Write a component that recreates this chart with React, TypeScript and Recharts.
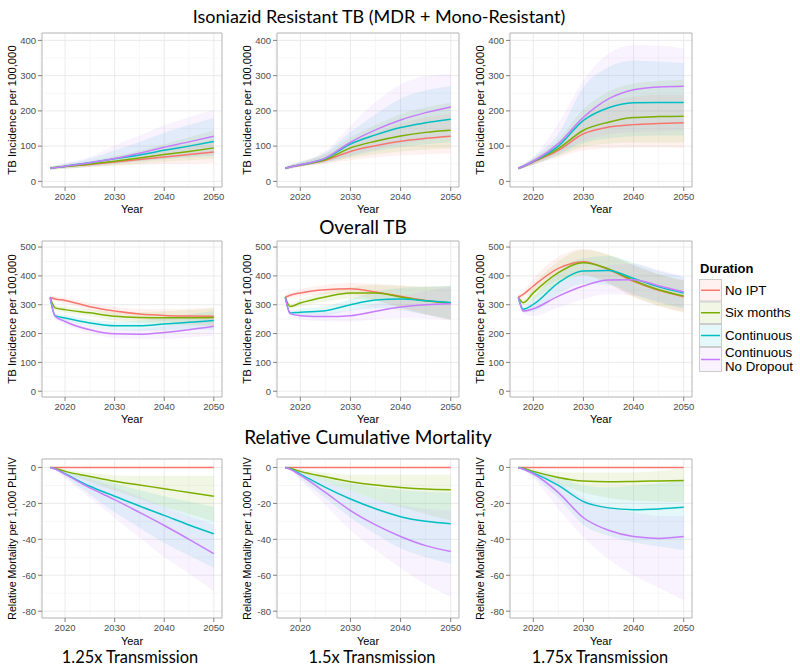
import React from 'react';
import { ComposedChart, Area, Line, XAxis, YAxis, CartesianGrid, ReferenceArea } from 'recharts';

// ---------- shared categories ----------
const years = [2017, 2018, 2020, 2025, 2030, 2035, 2040, 2045, 2050];
const seriesKeys = ['noipt', 'six', 'cont', 'nodrop'];
const seriesNames = ['No IPT', 'Six months', 'Continuous', 'Continuous\nNo Dropout'];
const seriesColors = ['#F8766D', '#7CAE00', '#00BFC4', '#C77CFF'];
const xTicks = [2020, 2030, 2040, 2050];
const xMinor = [2015, 2025, 2035, 2045];
const isoTicks = [0, 100, 200, 300, 400];
const isoMinor = [50, 150, 250, 350];
const tbTicks = [0, 100, 200, 300, 400, 500];
const tbMinor = [50, 150, 250, 350, 450];
const mortTicks = [-80, -60, -40, -20, 0];
const mortMinor = [-70, -50, -30, -10];

// ---------- Isoniazid resistant TB, 1.25x ----------
const iso125Mean = [
  [37, 39, 42, 48, 55, 62, 69, 76, 83],
  [37, 39, 42, 49, 57, 66, 76, 85, 95],
  [37, 39, 43, 53, 64, 75, 88, 100, 113],
  [37, 39, 43, 53, 65, 80, 97, 112, 128],
];
const iso125Lo = [
  [33, 34, 36, 40, 44, 47, 49, 50, 52],
  [33, 34, 36, 41, 46, 51, 56, 60, 64],
  [33, 35, 37, 43, 50, 57, 63, 68, 72],
  [33, 35, 37, 43, 50, 58, 65, 71, 76],
];
const iso125Hi = [
  [41, 43, 47, 56, 66, 78, 92, 105, 120],
  [41, 44, 48, 58, 72, 88, 105, 125, 145],
  [42, 45, 50, 64, 88, 112, 138, 160, 180],
  [42, 45, 52, 69, 102, 130, 159, 182, 203],
];

// ---------- Isoniazid resistant TB, 1.5x ----------
const iso150Mean = [
  [37, 41, 46, 60, 85, 101, 114, 122, 128],
  [37, 41, 46, 62, 95, 114, 129, 139, 145],
  [37, 41, 47, 65, 106, 132, 153, 166, 176],
  [37, 41, 47, 66, 111, 146, 174, 195, 211],
];
const iso150Lo = [
  [33, 36, 41, 50, 60, 68, 74, 77, 80],
  [33, 36, 42, 52, 66, 77, 85, 90, 94],
  [33, 36, 42, 54, 71, 86, 97, 105, 110],
  [33, 36, 42, 54, 73, 91, 106, 118, 126],
];
const iso150Hi = [
  [41, 46, 53, 74, 112, 140, 165, 182, 192],
  [41, 46, 54, 78, 125, 160, 190, 210, 223],
  [42, 47, 55, 82, 140, 190, 235, 258, 270],
  [42, 47, 56, 86, 158, 225, 275, 298, 305],
];

// ---------- Isoniazid resistant TB, 1.75x ----------
const iso175Mean = [
  [37, 42, 55, 88, 135, 154, 161, 164, 166],
  [37, 42, 56, 93, 145, 168, 181, 184, 185],
  [37, 43, 57, 100, 173, 209, 223, 224, 224],
  [37, 43, 57, 107, 182, 234, 260, 268, 270],
];
const iso175Lo = [
  [33, 37, 47, 68, 88, 94, 96, 96, 95],
  [33, 37, 48, 72, 98, 107, 110, 110, 110],
  [33, 38, 48, 75, 108, 122, 128, 130, 130],
  [33, 38, 48, 78, 115, 133, 140, 142, 145],
];
const iso175Hi = [
  [41, 47, 64, 110, 185, 225, 240, 245, 245],
  [41, 47, 65, 118, 205, 255, 278, 285, 288],
  [42, 48, 68, 135, 268, 324, 343, 340, 336],
  [42, 49, 70, 164, 287, 362, 386, 385, 376],
];

// ---------- Overall TB, 1.25x ----------
const tb125Mean = [
  [325, 320, 315, 293, 278, 268, 263, 261, 260],
  [325, 289, 283, 272, 260, 256, 255, 255, 256],
  [325, 262, 254, 237, 227, 227, 233, 239, 245],
  [325, 260, 242, 213, 199, 198, 204, 213, 225],
];
const tb125Lo = [
  [315, 312, 305, 281, 263, 250, 242, 236, 230],
  [315, 281, 273, 260, 245, 238, 233, 228, 224],
  [315, 254, 244, 225, 212, 209, 211, 212, 213],
  [315, 252, 232, 201, 184, 180, 182, 186, 193],
];
const tb125Hi = [
  [335, 328, 325, 305, 293, 286, 285, 287, 290],
  [335, 297, 293, 284, 275, 274, 277, 282, 288],
  [335, 270, 264, 249, 242, 245, 255, 266, 277],
  [335, 268, 252, 225, 214, 216, 226, 240, 257],
];

// ---------- Overall TB, 1.5x ----------
const tb150Mean = [
  [326, 333, 341, 352, 355, 344, 329, 315, 306],
  [326, 294, 306, 327, 341, 341, 327, 314, 306],
  [326, 271, 274, 279, 300, 316, 320, 314, 308],
  [326, 269, 262, 259, 262, 277, 292, 300, 303],
];
const tb150Lo = [
  [316, 325, 329, 336, 335, 316, 291, 267, 248],
  [316, 286, 294, 311, 321, 313, 289, 266, 248],
  [316, 263, 262, 263, 280, 288, 282, 266, 250],
  [316, 261, 250, 243, 242, 249, 254, 252, 245],
];
const tb150Hi = [
  [336, 341, 353, 368, 375, 372, 367, 363, 364],
  [336, 302, 318, 343, 361, 369, 365, 362, 364],
  [336, 279, 286, 295, 320, 344, 358, 362, 366],
  [336, 277, 274, 275, 282, 305, 330, 348, 361],
];

// ---------- Overall TB, 1.75x ----------
const tb175Mean = [
  [326, 336, 365, 426, 449, 422, 381, 350, 328],
  [326, 307, 341, 411, 446, 424, 384, 352, 330],
  [326, 284, 301, 376, 417, 419, 391, 362, 341],
  [326, 278, 286, 330, 365, 386, 387, 366, 344],
];
const tb175Lo = [
  [316, 326, 340, 386, 404, 372, 326, 295, 273],
  [316, 297, 316, 371, 401, 374, 329, 297, 275],
  [316, 274, 276, 336, 372, 369, 336, 307, 286],
  [316, 268, 261, 290, 320, 336, 332, 311, 289],
];
const tb175Hi = [
  [336, 346, 390, 466, 494, 472, 436, 405, 383],
  [336, 317, 366, 451, 491, 474, 439, 407, 385],
  [336, 294, 326, 416, 462, 469, 446, 417, 396],
  [336, 288, 311, 370, 410, 436, 442, 421, 399],
];

// ---------- Relative cumulative mortality, 1.25x ----------
const mort125Mean = [
  [0, 0, 0, 0, 0, 0, 0, 0, 0],
  [0, -0.5, -2.2, -5, -7.7, -9.8, -11.8, -14, -16],
  [0, -0.8, -3.5, -10.5, -16, -21.5, -26.7, -32, -36.9],
  [0, -0.9, -3.7, -11.4, -17.9, -25, -32.3, -40, -48],
];
const mort125Lo = [
  [0, 0, 0, 0, 0, 0, 0, 0, 0],
  [0, -0.7, -3, -8, -13, -17.5, -22, -26, -30],
  [0, -1.2, -5, -15, -25, -33.5, -42, -49, -56],
  [0, -1.4, -6, -17, -28, -39, -50, -59, -69],
];
const mort125Hi = [
  [0, 0, 0, 0, 0, 0, 0, 0, 0],
  [0, -0.3, -1, -3, -4.3, -4.6, -4.6, -4.6, -4.6],
  [0, -0.4, -2, -5.5, -9, -12.5, -16, -19, -22],
  [0, -0.5, -2.2, -6.5, -11, -16, -22, -27, -32],
];

// ---------- Relative cumulative mortality, 1.5x ----------
const mort150Mean = [
  [0, 0, 0, 0, 0, 0, 0, 0, 0],
  [0, -0.5, -2.2, -5.2, -7.9, -9.8, -11.1, -12, -12.4],
  [0, -0.8, -3.7, -11.1, -17.6, -23, -27.4, -30, -31.4],
  [0, -1, -4.3, -13.9, -24, -32, -38.4, -43.5, -46.8],
];
const mort150Lo = [
  [0, 0, 0, 0, 0, 0, 0, 0, 0],
  [0, -0.7, -3, -8, -13, -18, -22, -26, -29.6],
  [0, -1.2, -6, -17, -28, -37, -45, -50, -53.6],
  [0, -1.5, -7, -21, -35, -46, -56, -65, -72],
];
const mort150Hi = [
  [0, 0, 0, 0, 0, 0, 0, 0, 0],
  [0, -0.3, -1, -3, -4, -4, -4, -4, -4],
  [0, -0.4, -2, -6, -9, -11, -12.5, -13.5, -14],
  [0, -0.5, -2.5, -8, -13, -18, -21, -23, -24],
];

// ---------- Relative cumulative mortality, 1.75x ----------
const mort175Mean = [
  [0, 0, 0, 0, 0, 0, 0, 0, 0],
  [0, -0.5, -2.2, -5.6, -7.6, -8, -7.8, -7.5, -7.2],
  [0, -0.8, -3, -10, -19, -22.5, -23.5, -23.1, -22.2],
  [0, -1, -3.5, -14, -28, -35, -38.5, -39.5, -38.5],
];
const mort175Lo = [
  [0, 0, 0, 0, 0, 0, 0, 0, 0],
  [0, -0.7, -3, -9, -14, -17, -18.5, -19, -19.4],
  [0, -1.2, -5, -17, -32, -38, -41.7, -44, -46],
  [0, -1.5, -6, -23, -39, -51, -60, -67, -74],
];
const mort175Hi = [
  [0, 0, 0, 0, 0, 0, 0, 0, 0],
  [0, -0.3, -1, -2.5, -2.8, -2.8, -2.8, -2, -0.6],
  [0, -0.4, -1.5, -5, -10, -11, -10, -9, -7],
  [0, -0.5, -2, -8, -17, -22, -25, -27, -27],
];

// ---------- text ----------
const rowTitles = ['Isoniazid Resistant TB (MDR + Mono-Resistant)', 'Overall TB', 'Relative Cumulative Mortality'];
const colTitles = ['1.25x Transmission', '1.5x Transmission', '1.75x Transmission'];
const incidenceLabel = 'TB Incidence per 100,000';
const mortalityLabel = 'Relative Mortality per 1,000 PLHIV';
const legendTitle = 'Duration';

// ---------- layout ----------
const AXIS_FONT = '"Liberation Sans", Arial, Helvetica, sans-serif';
const TITLE_FONT = 'Lato, "Open Sans", sans-serif';
const colLeft = [42, 277, 510];
const colWidth = [180, 182, 182];
const rowTop = [33, 241, 459];
const rowHeight = [154, 156, 159];
const xDomain = [2015.35, 2051.65];
const rowDomains = [[-16, 421], [-20, 521], [-83.8, 4.7]];
const rowTicks = [isoTicks, tbTicks, mortTicks];
const rowMinor = [isoMinor, tbMinor, mortMinor];
const rowYLabels = [incidenceLabel, incidenceLabel, mortalityLabel];

function buildRows(mean: number[][], lo: number[][], hi: number[][]) {
  return years.map((year, i) => {
    const row: any = { year };
    seriesKeys.forEach((k, s) => {
      row[k] = mean[s][i];
      row[k + 'R'] = [lo[s][i], hi[s][i]];
    });
    return row;
  });
}

function hasWidth(lo: number[][], hi: number[][], s: number) {
  return lo[s].some((v, i) => v !== hi[s][i]);
}

const panelSources = [
  [[iso125Mean, iso125Lo, iso125Hi], [iso150Mean, iso150Lo, iso150Hi], [iso175Mean, iso175Lo, iso175Hi]],
  [[tb125Mean, tb125Lo, tb125Hi], [tb150Mean, tb150Lo, tb150Hi], [tb175Mean, tb175Lo, tb175Hi]],
  [[mort125Mean, mort125Lo, mort125Hi], [mort150Mean, mort150Lo, mort150Hi], [mort175Mean, mort175Lo, mort175Hi]],
];

const YLabel = (props: any) => {
  const { viewBox, text, fontSize } = props;
  if (!viewBox) return null;
  const cx = viewBox.x + 12;
  const cy = viewBox.y + viewBox.height / 2;
  return (
    <text x={cx} y={cy} transform={`rotate(-90, ${cx}, ${cy})`} textAnchor="middle" dominantBaseline="central"
      fontSize={fontSize} fontFamily={AXIS_FONT} fill="#000">{text}</text>
  );
};

const XLabel = (props: any) => {
  const { viewBox, dy } = props;
  if (!viewBox) return null;
  const cx = viewBox.x + viewBox.width / 2;
  const cy = viewBox.y + dy;
  return (
    <text x={cx} y={cy} textAnchor="middle" dominantBaseline="central" fontSize={11} fontFamily={AXIS_FONT} fill="#000">Year</text>
  );
};

const Y_W = 42;
const X_H = 34;
const TOP_PAD = 5;
const RIGHT_PAD = 5;

function Panel({ r, c }: { r: number; c: number }) {
  const plotW = colWidth[c];
  const plotH = rowHeight[r];
  const domain = rowDomains[r];
  const [mean, lo, hi] = panelSources[r][c];
  const rows = buildRows(mean, lo, hi);
  return (
    <div style={{ position: 'absolute', left: colLeft[c] - Y_W, top: rowTop[r] - TOP_PAD }}>
      <ComposedChart width={Y_W + plotW + RIGHT_PAD} height={TOP_PAD + plotH + X_H} data={rows}
        margin={{ top: TOP_PAD, right: RIGHT_PAD, bottom: 0, left: 0 }}>
        <CartesianGrid verticalValues={xMinor} horizontalValues={rowMinor[r]} stroke="#F4F4F4" strokeWidth={0.7} />
        <CartesianGrid verticalValues={xTicks} horizontalValues={rowTicks[r]} stroke="#E6E6E6" strokeWidth={0.8} />
        <XAxis dataKey="year" type="number" domain={xDomain} ticks={xTicks} allowDataOverflow interval={0}
          height={X_H} axisLine={false} tickSize={4} tickMargin={2} tickLine={{ stroke: '#808080' }}
          tick={{ fontSize: 9.5, fill: '#4D4D4D', fontFamily: AXIS_FONT }}
          label={<XLabel dy={r === 2 ? 22.5 : 22} />} />
        <YAxis type="number" domain={domain} ticks={rowTicks[r]} allowDataOverflow interval={0}
          width={Y_W} axisLine={false} tickSize={4} tickMargin={2} tickLine={{ stroke: '#808080' }}
          tick={{ fontSize: 9.5, fill: '#4D4D4D', fontFamily: AXIS_FONT }}
          label={<YLabel text={rowYLabels[r]} fontSize={r === 2 ? 10.6 : 11.3} />} />
        {seriesKeys.map((k, s) => hasWidth(lo, hi, s) ? (
          <Area key={k + 'R'} dataKey={k + 'R'} type="monotone" stroke="none" fill={seriesColors[s]}
            fillOpacity={0.1} isAnimationActive={false} activeDot={false} />
        ) : null)}
        {seriesKeys.map((k, s) => (
          <Line key={k} dataKey={k} type="monotone" stroke={seriesColors[s]} strokeWidth={1.5}
            dot={false} activeDot={false} isAnimationActive={false} />
        ))}
        <ReferenceArea x1={xDomain[0]} x2={xDomain[1]} y1={domain[0]} y2={domain[1]} fill="none"
          fillOpacity={0} stroke="#B3B3B3" strokeWidth={1} ifOverflow="visible" />
      </ComposedChart>
    </div>
  );
}

function Legend() {
  const keyTops = [24, 46.5, 69, 92];
  const keyHeights = [22.5, 22.5, 23, 25];
  return (
    <svg style={{ position: 'absolute', left: 695, top: 255 }} width={105} height={125}>
      <text x={5} y={13} dominantBaseline="central" fontSize={13} fontWeight="bold" fontFamily={AXIS_FONT} fill="#000">
        {legendTitle}
      </text>
      {seriesNames.map((name, s) => {
        const y0 = keyTops[s];
        const h = keyHeights[s];
        const lines = name.split('\n');
        return (
          <g key={name}>
            <rect x={4.5} y={y0 + 0.5} width={22} height={h - 1} fill="#fff" stroke="#CCCCCC" strokeWidth={1} />
            <rect x={5} y={y0 + 1} width={21} height={h - 2} fill={seriesColors[s]} fillOpacity={0.1} />
            <line x1={6} x2={25} y1={y0 + h / 2} y2={y0 + h / 2} stroke={seriesColors[s]} strokeWidth={1.5} />
            {lines.map((ln, j) => (
              <text key={ln} x={30} y={y0 + h / 2 + (lines.length > 1 ? (j === 0 ? -7 : 7) : 0)}
                dominantBaseline="central" fontSize={13.3} fontFamily={AXIS_FONT} fill="#000">{ln}</text>
            ))}
          </g>
        );
      })}
    </svg>
  );
}

function Title({ text, cx, cy, size }: { text: string; cx: number; cy: number; size: number }) {
  return (
    <div style={{
      position: 'absolute', left: cx - 250, width: 500, top: cy - 11, height: 22, lineHeight: '22px',
      textAlign: 'center', fontFamily: TITLE_FONT, fontSize: size, color: '#000', whiteSpace: 'nowrap',
    }}>{text}</div>
  );
}

export default function App() {
  return (
    <div style={{ position: 'absolute', left: 0, top: 0, width: 800, height: 669, background: '#fff', overflow: 'hidden' }}>
      <Title text={rowTitles[0]} cx={379} cy={16} size={18} />
      <Title text={rowTitles[1]} cx={363} cy={227} size={19} />
      <Title text={rowTitles[2]} cx={368} cy={437} size={19} />
      <Title text={colTitles[0]} cx={130} cy={657} size={16.4} />
      <Title text={colTitles[1]} cx={372} cy={657} size={16.4} />
      <Title text={colTitles[2]} cx={600} cy={657} size={16.4} />
      {[0, 1, 2].map((r) => [0, 1, 2].map((c) => <Panel key={`${r}-${c}`} r={r} c={c} />))}
      <Legend />
    </div>
  );
}
